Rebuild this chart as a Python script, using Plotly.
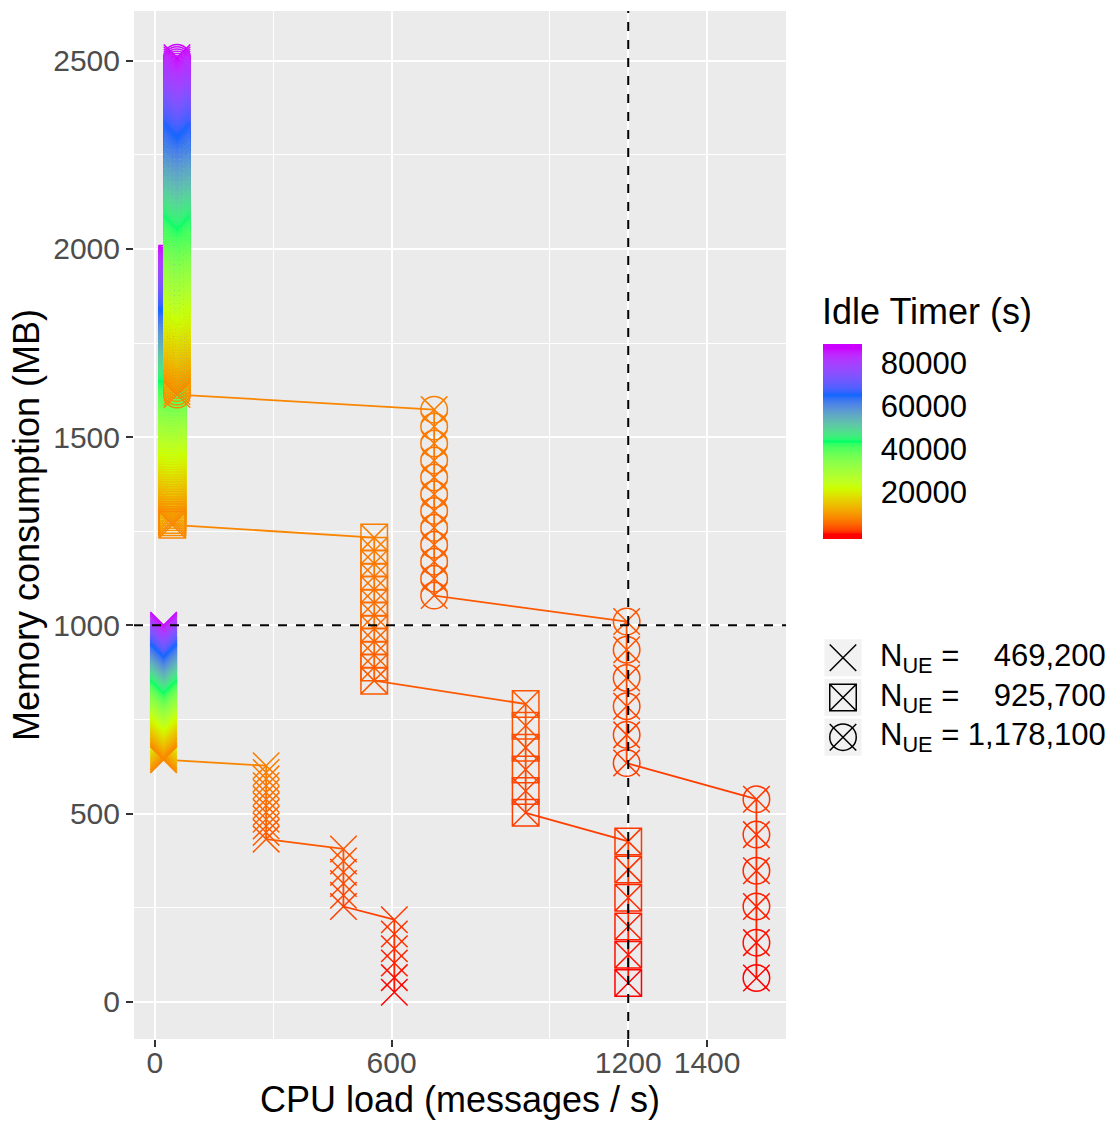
import plotly.graph_objects as go

# ------------------------------------------------------------------ data
SERIES_LABELS = ["469,200", "925,700", "1,178,100"]          # N_UE

# idle timer (s) of every simulated point, shared by the three series
IDLE_TIMER_BAR = [
    86400, 85800, 85200, 84600, 84000, 83400, 82800, 82200, 81600, 81000,
    80400, 79800, 79200, 78600, 78000, 77400, 76800, 76200, 75600, 75000,
    74400, 73800, 73200, 72600, 72000, 71400, 70800, 70200, 69600, 69000,
    68400, 67800, 67200, 66600, 66000, 65400, 64800, 64200, 63600, 63000,
    62400, 61800, 61200, 60600, 60000, 59400, 58800, 58200, 57600, 57000,
    56400, 55800, 55200, 54600, 54000, 53400, 52800, 52200, 51600, 51000,
    50400, 49800, 49200, 48600, 48000, 47400, 46800, 46200, 45600, 45000,
    44400, 43800, 43200, 42600, 42000, 41400, 40800, 40200, 39600, 39000,
    38400, 37800, 37200, 36600, 36000, 35400, 34800, 34200, 33600, 33000,
    32400, 31800, 31200, 30600, 30000, 29400, 28800, 28200, 27600, 27000,
    26400, 25800, 25200, 24600, 24000, 23400, 22800, 22200, 21600, 21000,
    20400, 19800, 19200, 18600, 18000, 17400, 16800, 16200, 15600, 15000,
    14400, 13800, 13200, 12600, 12000, 11400, 10800, 10200, 9600, 9000,
    8400, 7800]
IDLE_TIMER_STACK1 = [7200, 6900, 6600, 6300, 6000, 5700, 5400, 5100, 4800, 4500, 4200, 3900]
IDLE_TIMER_STACK2 = [3600, 3300, 3000, 2700, 2400, 2100]
IDLE_TIMER_STACK3 = [1800, 1500, 1200, 900, 600, 300]

# CPU load (messages / s) of the four clusters of each series
CPU_469K = [22, 282, 478, 607]
CPU_926K = [44, 556, 940, 1200]
CPU_1178K = [56, 708, 1196, 1525]

# memory consumption (MB)
MEM_469K_BAR = [
    1000, 998, 995, 993, 990, 988, 986, 983, 981, 978,
    976, 974, 971, 969, 967, 964, 962, 959, 957, 955,
    952, 950, 947, 945, 943, 940, 938, 935, 933, 931,
    928, 926, 924, 921, 919, 916, 914, 911, 909, 906,
    903, 901, 898, 895, 892, 890, 887, 884, 882, 879,
    876, 874, 871, 868, 865, 863, 860, 857, 855, 852,
    849, 847, 844, 841, 839, 836, 833, 830, 828, 825,
    822, 820, 817, 814, 812, 809, 806, 803, 801, 798,
    795, 792, 790, 787, 784, 782, 779, 776, 773, 771,
    768, 765, 763, 760, 757, 754, 752, 749, 746, 743,
    741, 738, 735, 733, 730, 727, 724, 722, 719, 716,
    712, 709, 706, 702, 699, 696, 693, 689, 686, 683,
    679, 676, 673, 669, 666, 663, 660, 656, 653, 650,
    646, 643]
MEM_469K_S1 = [627, 609, 592, 574, 556, 538, 521, 503, 485, 467, 450, 432]
MEM_469K_S2 = [406, 374, 344, 314, 283, 253]
MEM_469K_S3 = [218, 180, 141, 103, 64, 25]

MEM_926K_BAR = [
    1974, 1969, 1964, 1960, 1955, 1950, 1945, 1941, 1936, 1931,
    1926, 1922, 1917, 1912, 1907, 1903, 1898, 1893, 1888, 1884,
    1879, 1874, 1869, 1865, 1860, 1855, 1850, 1846, 1841, 1836,
    1831, 1827, 1822, 1817, 1812, 1808, 1803, 1798, 1792, 1787,
    1782, 1776, 1771, 1766, 1761, 1755, 1750, 1745, 1739, 1734,
    1729, 1723, 1718, 1713, 1707, 1702, 1697, 1692, 1686, 1681,
    1676, 1670, 1665, 1660, 1654, 1649, 1644, 1639, 1633, 1628,
    1623, 1617, 1612, 1607, 1601, 1596, 1590, 1585, 1580, 1574,
    1569, 1564, 1558, 1553, 1547, 1542, 1537, 1531, 1526, 1520,
    1515, 1510, 1504, 1499, 1493, 1488, 1483, 1477, 1472, 1466,
    1461, 1456, 1450, 1445, 1440, 1434, 1429, 1423, 1418, 1411,
    1405, 1398, 1392, 1385, 1379, 1372, 1365, 1359, 1352, 1346,
    1339, 1333, 1326, 1320, 1313, 1306, 1300, 1293, 1287, 1280,
    1274, 1267]
MEM_926K_S1 = [1233, 1198, 1164, 1129, 1095, 1060, 1026, 991, 957, 922, 888, 853]
MEM_926K_S2 = [791, 733, 675, 617, 560, 502]
MEM_926K_S3 = [426, 351, 276, 200, 125, 50]

MEM_1178K_BAR = [
    2508, 2502, 2496, 2490, 2484, 2478, 2473, 2467, 2461, 2455,
    2449, 2443, 2437, 2431, 2425, 2419, 2413, 2407, 2402, 2396,
    2390, 2384, 2378, 2372, 2366, 2360, 2354, 2348, 2342, 2336,
    2331, 2325, 2319, 2313, 2307, 2301, 2295, 2288, 2281, 2275,
    2268, 2261, 2254, 2248, 2241, 2234, 2227, 2220, 2214, 2207,
    2200, 2193, 2187, 2180, 2173, 2166, 2159, 2153, 2146, 2139,
    2132, 2126, 2119, 2112, 2105, 2098, 2092, 2085, 2078, 2071,
    2065, 2058, 2051, 2044, 2037, 2030, 2024, 2017, 2010, 2003,
    1996, 1989, 1982, 1976, 1969, 1962, 1955, 1948, 1941, 1934,
    1928, 1921, 1914, 1907, 1900, 1893, 1886, 1879, 1873, 1866,
    1859, 1852, 1845, 1838, 1831, 1825, 1818, 1811, 1804, 1796,
    1787, 1779, 1771, 1762, 1754, 1746, 1738, 1729, 1721, 1713,
    1704, 1696, 1688, 1679, 1671, 1663, 1655, 1646, 1638, 1630,
    1621, 1613]
MEM_1178K_S1 = [1573, 1528, 1483, 1438, 1393, 1348, 1304, 1259, 1214, 1169, 1124, 1079]
MEM_1178K_S2 = [1010, 935, 860, 785, 709, 634]
MEM_1178K_S3 = [538, 444, 348, 253, 157, 63]

REF_CPU = 1200      # dashed reference lines
REF_MEM = 1000

X_TICKS = [0, 600, 1200, 1400]
X_MINOR = [300, 1000]
Y_TICKS = [0, 500, 1000, 1500, 2000, 2500]
Y_MINOR = [250, 750, 1250, 1750, 2250]
CB_TICKS = [20000, 40000, 60000, 80000]
RAINBOW5 = ["#FF0000", "#CCFF00", "#00FF66", "#0066FF", "#CC00FF"]

# ------------------------------------------------------------------ style
FONT = "Liberation Sans, Arial, sans-serif"
W, H = 1117, 1123
ML, MR, MT, MB = 134, 0, 11, 84
PW, PH = W - ML - MR, H - MT - MB
LINE_W = 1.8
STROKE = 1.5
MSIZE = 26.5
CB_LEFT, CB_TOP, CB_LEN, CB_THICK = 823, 344, 195, 39


def px_x(px):
    return (px - ML) / PW


def px_y(py):
    return (H - MB - py) / PH


# ---- CIELAB colour ramp (like ggplot's gradientn)
_WP = (0.95047, 1.0, 1.08883)


def _lin(c):
    c = c / 255.0
    return c / 12.92 if c <= 0.04045 else ((c + 0.055) / 1.055) ** 2.4


def _gam(c):
    c = 12.92 * c if c <= 0.0031308 else 1.055 * c ** (1 / 2.4) - 0.055
    return min(max(c, 0.0), 1.0)


def _f(t):
    d = 6 / 29
    return t ** (1 / 3) if t > d ** 3 else t / (3 * d * d) + 4 / 29


def _finv(t):
    d = 6 / 29
    return t ** 3 if t > d else 3 * d * d * (t - 4 / 29)


def hex_to_lab(h):
    r, g, b = (_lin(int(h[i:i + 2], 16)) for i in (1, 3, 5))
    X = 0.4124564 * r + 0.3575761 * g + 0.1804375 * b
    Y = 0.2126729 * r + 0.7151522 * g + 0.0721750 * b
    Z = 0.0193339 * r + 0.1191920 * g + 0.9503041 * b
    fx, fy, fz = _f(X / _WP[0]), _f(Y / _WP[1]), _f(Z / _WP[2])
    return (116 * fy - 16, 500 * (fx - fy), 200 * (fy - fz))


def lab_to_hex(L, a, b):
    fy = (L + 16) / 116
    fx, fz = fy + a / 500, fy - b / 200
    X, Y, Z = _WP[0] * _finv(fx), _WP[1] * _finv(fy), _WP[2] * _finv(fz)
    r = 3.2404542 * X - 1.5371385 * Y - 0.4985314 * Z
    g = -0.9692660 * X + 1.8760108 * Y + 0.0415560 * Z
    bb = 0.0556434 * X - 0.2040259 * Y + 1.0572252 * Z
    return "#%02X%02X%02X" % tuple(int(round(255 * _gam(c))) for c in (r, g, bb))


_LABS = [hex_to_lab(h) for h in RAINBOW5]


def ramp(t):
    t = min(max(t, 0.0), 1.0)
    n = len(_LABS) - 1
    seg = min(int(t * n), n - 1)
    f = t * n - seg
    a, b = _LABS[seg], _LABS[seg + 1]
    return lab_to_hex(*[a[k] * (1 - f) + b[k] * f for k in range(3)])


IDLE_CLUSTERS = [IDLE_TIMER_BAR, IDLE_TIMER_STACK1, IDLE_TIMER_STACK2, IDLE_TIMER_STACK3]
_all_t = [t for c in IDLE_CLUSTERS for t in c]
T_MIN, T_MAX = min(_all_t), max(_all_t)
_half_bin = (T_MAX - T_MIN) / 19 / 2
C_MIN, C_MAX = T_MIN - _half_bin, T_MAX + _half_bin


def colour_at(t):
    return ramp((t - T_MIN) / (T_MAX - T_MIN))


COLORSCALE = [[k / 120, colour_at(C_MIN + k / 120 * (C_MAX - C_MIN))] for k in range(121)]

# ------------------------------------------------------------------ figure
SERIES = [
    (CPU_469K, [MEM_469K_BAR, MEM_469K_S1, MEM_469K_S2, MEM_469K_S3]),
    (CPU_926K, [MEM_926K_BAR, MEM_926K_S1, MEM_926K_S2, MEM_926K_S3]),
    (CPU_1178K, [MEM_1178K_BAR, MEM_1178K_S1, MEM_1178K_S2, MEM_1178K_S3]),
]
MARKERS = [
    ["x-thin-open"],
    ["square-x-open"],
    ["circle-open", "x-thin-open"],
]

points = []
for cpus, mems in SERIES:
    xs, ys, ts = [], [], []
    for cpu, mm, tt in zip(cpus, mems, IDLE_CLUSTERS):
        xs += [cpu] * len(mm)
        ys += list(mm)
        ts += list(tt[:len(mm)])
    points.append((xs, ys, ts, len(mems[0])))

fig = go.Figure()

# lines (below points), each segment coloured by its starting point
for xs, ys, ts, nbar in points:
    fig.add_trace(go.Scatter(x=xs[:nbar], y=ys[:nbar], mode="lines",
                             line=dict(color=colour_at(ts[nbar // 2]), width=LINE_W),
                             hoverinfo="skip", showlegend=False))
    for i in range(nbar - 1, len(xs) - 1):
        fig.add_trace(go.Scatter(x=xs[i:i + 2], y=ys[i:i + 2], mode="lines",
                                 line=dict(color=colour_at(ts[i]), width=LINE_W),
                                 hoverinfo="skip", showlegend=False))

first = True
for (xs, ys, ts, nbar), syms in zip(points, MARKERS):
    for sym in syms:
        marker = dict(symbol=sym, size=MSIZE, color=ts, colorscale=COLORSCALE,
                      cmin=C_MIN, cmax=C_MAX, line=dict(width=STROKE), showscale=first)
        if first:
            marker["colorbar"] = dict(
                x=px_x(CB_LEFT), xanchor="left", xpad=0,
                y=px_y(CB_TOP), yanchor="top", ypad=0,
                len=CB_LEN, lenmode="pixels", thickness=CB_THICK, thicknessmode="pixels",
                outlinewidth=0, tickmode="array", tickvals=CB_TICKS, tickformat="d",
                ticks="outside", ticklen=13, tickcolor="rgba(0,0,0,0)", tickwidth=1,
                tickfont=dict(size=31, color="black", family=FONT))
            first = False
        fig.add_trace(go.Scatter(x=xs, y=ys, mode="markers", marker=marker,
                                 hoverinfo="skip", showlegend=False))

# white tick marks drawn across both edges of the colour bar
for v in CB_TICKS:
    yv = px_y(CB_TOP + CB_LEN - (v - C_MIN) / (C_MAX - C_MIN) * CB_LEN)
    for xa, xb in ((CB_LEFT, CB_LEFT + 8), (CB_LEFT + CB_THICK - 8, CB_LEFT + CB_THICK)):
        fig.add_shape(type="line", xref="paper", yref="paper", x0=px_x(xa), x1=px_x(xb),
                      y0=yv, y1=yv, line=dict(color="white", width=1), layer="above")

# ---- legend built on an auxiliary axis pair
KEY_X, LABEL_X = 20, 55
idx = list(range(len(SERIES_LABELS)))
fig.add_trace(go.Scatter(x=[KEY_X] * len(idx), y=idx, xaxis="x2", yaxis="y2", mode="markers",
                         marker=dict(symbol="square", size=37, color="#F2F2F2"),
                         hoverinfo="skip", showlegend=False, cliponaxis=False))
for i, syms in enumerate(MARKERS):
    for sym in syms:
        fig.add_trace(go.Scatter(x=[KEY_X], y=[i], xaxis="x2", yaxis="y2", mode="markers",
                                 marker=dict(symbol=sym, size=MSIZE, color="black",
                                             line=dict(width=STROKE)),
                                 hoverinfo="skip", showlegend=False, cliponaxis=False))
longest = max(len(s) for s in SERIES_LABELS)
for i, lab in enumerate(SERIES_LABELS):
    pad = "\u00a0" * (3 * (longest - len(lab)) // 2)
    fig.add_annotation(x=LABEL_X, y=i, xref="x2", yref="y2", xanchor="left", yanchor="middle",
                       text="N<sub>UE</sub> = " + pad + lab, showarrow=False,
                       font=dict(size=31, color="black", family=FONT))

# colourbar title
fig.add_annotation(x=px_x(820), y=px_y(312), xref="paper", yref="paper",
                   xanchor="left", yanchor="middle", text="Idle Timer (s)",
                   showarrow=False, font=dict(size=36, color="black", family=FONT))

# panel background and dashed reference lines
fig.add_shape(type="rect", xref="x domain", yref="y domain", x0=0, x1=1, y0=0, y1=1,
              fillcolor="#EBEBEB", line=dict(width=0), layer="below")
fig.add_shape(type="line", xref="x", yref="y domain", x0=REF_CPU, x1=REF_CPU, y0=0, y1=1,
              line=dict(color="black", width=2, dash="9px,9px"))
fig.add_shape(type="line", xref="x domain", yref="y", x0=0, x1=1, y0=REF_MEM, y1=REF_MEM,
              line=dict(color="black", width=2, dash="9px,9px"))

axis_common = dict(ticks="outside", ticklen=7, tickwidth=1.8, tickcolor="#333333",
                   tickfont=dict(size=30, color="#4D4D4D", family=FONT),
                   showgrid=True, gridcolor="white", gridwidth=2,
                   zeroline=False, showline=False, tickmode="array")

fig.update_layout(
    width=W, height=H,
    margin=dict(l=ML, r=MR, t=MT, b=MB, pad=0),
    paper_bgcolor="white", plot_bgcolor="rgba(0,0,0,0)",
    font=dict(family=FONT, color="black"),
    showlegend=False,
    xaxis=dict(domain=[0, px_x(786)], range=[-53, 1600], tickvals=X_TICKS,
               ticklabelstandoff=-10,
               minor=dict(tickvals=X_MINOR, showgrid=True, gridcolor="white", gridwidth=1.2, ticks=""),
               title=dict(text="CPU load (messages / s)", font=dict(size=36, color="black"), standoff=4),
               **axis_common),
    yaxis=dict(domain=[0, 1], range=[-99, 2632], tickvals=Y_TICKS,
               minor=dict(tickvals=Y_MINOR, showgrid=True, gridcolor="white", gridwidth=1.2, ticks=""),
               title=dict(text="Memory consumption (MB)", font=dict(size=36, color="black"), standoff=2),
               **axis_common),
    xaxis2=dict(domain=[px_x(823), 1], range=[0, W - 823], visible=False, anchor="y2"),
    yaxis2=dict(domain=[px_y(757), px_y(638)], range=[2.5, -0.5], visible=False, anchor="x2"),
)

fig.write_html("out.html", config={"displayModeBar": False},
               post_script="document.body.style.margin='0';")
